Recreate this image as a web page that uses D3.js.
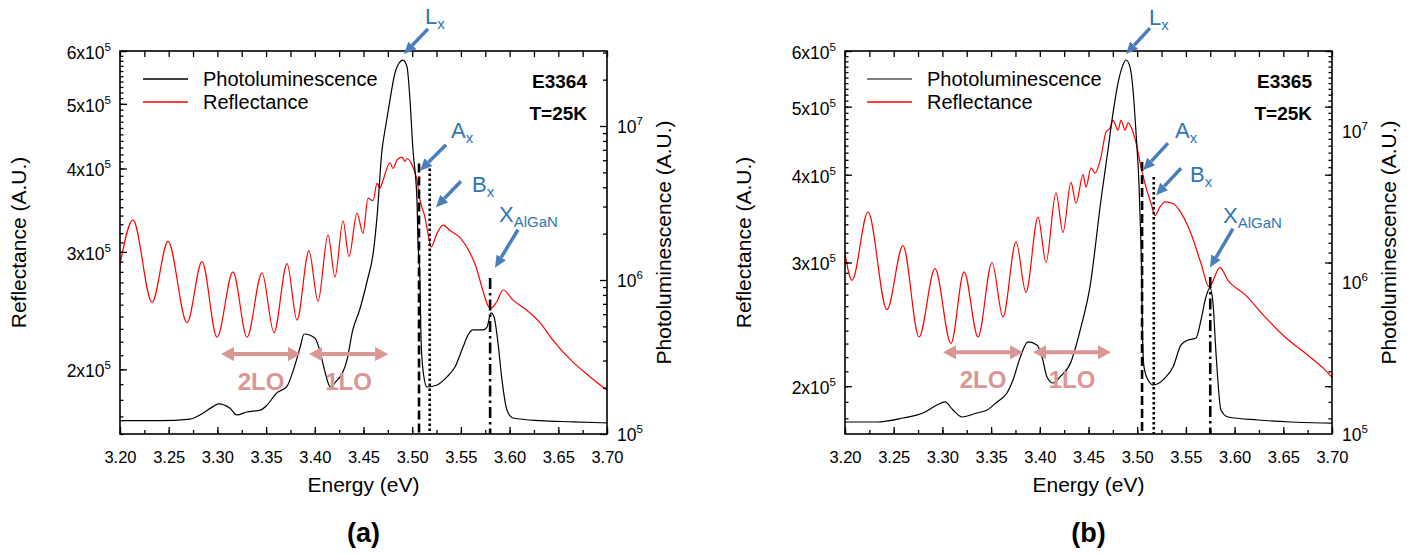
<!DOCTYPE html>
<html>
<head>
<meta charset="utf-8">
<script src="https://cdn.jsdelivr.net/npm/d3@7"></script>
<style>
body { margin:0; background:#fff; }
text { font-family: "Liberation Sans", Arial, sans-serif; }
</style>
</head>
<body>
<svg id="chart" width="1418" height="556"></svg>
<script>
// ---- data ----
var energyTicks = [3.20, 3.25, 3.30, 3.35, 3.40, 3.45, 3.50, 3.55, 3.60, 3.65, 3.70];
var reflTicks = [2e5, 3e5, 4e5, 5e5, 6e5];
var reflTickMant = ["2", "3", "4", "5", "6"];
var plTicks = [1e5, 1e6, 1e7];
var plTickExp = ["5", "6", "7"];

// panel (a) E3364 : [energy eV, reflectance]
var reflA = [
	[3.2000,2.87e5],[3.2133,3.35e5],[3.2329,2.52e5],[3.2493,3.11e5],[3.2688,2.35e5],[3.2842,2.90e5],
	[3.2996,2.235e5],[3.3160,2.80e5],[3.3304,2.235e5],[3.3458,2.79e5],[3.3581,2.27e5],[3.3715,2.88e5],
	[3.3817,2.37e5],[3.3940,3.01e5],[3.4033,2.53e5],[3.4136,3.18e5],[3.4207,2.75e5],[3.4290,3.34e5],
	[3.4351,2.95e5],[3.4433,3.43e5],[3.4495,3.20e5],[3.4546,3.61e5],[3.4598,3.58e5],[3.4639,3.80e5],
	[3.4670,3.74e5],[3.4700,3.84e5],[3.4772,4.08e5],[3.4803,4.00e5],[3.4844,4.12e5],[3.4895,4.16e5],
	[3.4925,4.10e5],[3.4947,4.14e5],[3.4998,4.05e5],[3.5049,3.84e5],[3.5080,3.59e5],[3.5131,3.38e5],
	[3.5162,3.20e5],[3.5193,3.05e5],[3.5255,3.20e5],[3.5316,3.29e5],[3.5388,3.23e5],[3.5491,3.15e5],
	[3.5593,2.99e5],[3.5655,2.85e5],[3.5727,2.62e5],[3.5779,2.49e5],[3.5809,2.47e5],[3.5871,2.53e5],
	[3.5932,2.63e5],[3.6035,2.54e5],[3.6179,2.45e5],[3.6312,2.35e5],[3.6446,2.21e5],[3.6651,2.05e5],
	[3.6825,1.95e5],[3.7000,1.86e5]
];
// panel (a) : [energy eV, photoluminescence]
var plA = [
	[3.200,1.22e5],[3.241,1.22e5],[3.272,1.25e5],[3.282,1.33e5],[3.295,1.50e5],[3.301,1.57e5],
	[3.313,1.47e5],[3.320,1.33e5],[3.330,1.39e5],[3.344,1.43e5],[3.351,1.54e5],[3.361,1.85e5],
	[3.371,2.02e5],[3.378,2.60e5],[3.385,3.67e5],[3.389,4.46e5],[3.400,4.20e5],[3.405,3.51e5],
	[3.410,2.60e5],[3.416,2.02e5],[3.423,2.24e5],[3.426,2.35e5],[3.433,3.02e5],[3.439,4.74e5],
	[3.446,6.39e5],[3.454,1.0e6],[3.460,1.50e6],[3.4639,2.57e6],[3.469,6.98e6],[3.4721,9.42e6],
	[3.4772,1.48e7],[3.4823,2.21e7],[3.4854,2.49e7],[3.4906,2.68e7],[3.4947,2.42e7],[3.4977,1.48e7],
	[3.5008,6.98e6],[3.5049,3.31e6],[3.5059,1.82e6],[3.5080,1.0e6],[3.5090,4.26e5],[3.5111,2.60e5],
	[3.5152,2.02e5],[3.5255,2.08e5],[3.5357,2.35e5],[3.5439,2.72e5],[3.5522,3.67e5],[3.5573,4.39e5],
	[3.5624,4.74e5],[3.5727,4.74e5],[3.5768,4.95e5],[3.5809,6.11e5],[3.5840,5.75e5],[3.5881,3.90e5],
	[3.5922,2.24e5],[3.5973,1.43e5],[3.6035,1.27e5],[3.6312,1.22e5],[3.6651,1.20e5],[3.7000,1.18e5]
];
// panel (b) E3365
var reflB = [
	[3.2000,3.09e5],[3.2072,2.83e5],[3.2236,3.54e5],[3.2431,2.57e5],[3.2595,3.17e5],[3.2760,2.35e5],
	[3.2924,2.94e5],[3.3088,2.30e5],[3.3222,2.91e5],[3.3366,2.35e5],[3.3509,3.00e5],[3.3622,2.51e5],
	[3.3756,3.21e5],[3.3858,2.72e5],[3.3982,3.48e5],[3.4064,3.00e5],[3.4166,3.77e5],[3.4238,3.31e5],
	[3.4320,3.90e5],[3.4372,3.64e5],[3.4444,4.00e5],[3.4474,3.84e5],[3.4526,4.09e5],[3.4567,4.02e5],
	[3.4628,4.24e5],[3.4680,4.60e5],[3.4721,4.66e5],[3.4752,4.78e5],[3.4803,4.63e5],[3.4834,4.78e5],
	[3.4875,4.63e5],[3.4906,4.74e5],[3.4957,4.60e5],[3.4988,4.44e5],[3.5039,4.10e5],[3.5090,3.84e5],
	[3.5142,3.64e5],[3.5183,3.50e5],[3.5234,3.60e5],[3.5285,3.66e5],[3.5368,3.64e5],[3.5450,3.53e5],
	[3.5552,3.30e5],[3.5655,2.99e5],[3.5737,2.77e5],[3.5850,2.95e5],[3.5932,2.83e5],[3.6107,2.70e5],
	[3.6312,2.51e5],[3.6517,2.35e5],[3.6723,2.23e5],[3.6928,2.11e5],[3.7000,2.06e5]
];
var plB = [
	[3.2000,1.20e5],[3.2329,1.20e5],[3.2595,1.275e5],[3.2801,1.376e5],[3.2945,1.554e5],[3.3027,1.627e5],
	[3.3109,1.44e5],[3.3201,1.295e5],[3.3355,1.376e5],[3.3458,1.44e5],[3.3561,1.627e5],[3.3663,1.865e5],
	[3.3725,2.27e5],[3.3797,3.18e5],[3.3879,4.05e5],[3.3971,3.87e5],[3.4023,3.22e5],[3.4074,2.38e5],
	[3.4136,2.17e5],[3.4207,2.38e5],[3.4320,2.99e5],[3.4423,5.09e5],[3.4515,9.34e5],[3.4628,3.50e6],
	[3.4700,7.49e6],[3.4752,1.315e7],[3.4803,2.07e7],[3.4854,2.73e7],[3.4885,2.94e7],[3.4926,2.65e7],
	[3.4957,1.87e7],[3.4988,9.70e6],[3.5018,4.54e6],[3.5035,2.12e6],[3.5045,1.21e6],[3.5055,4.37e5],
	[3.5070,2.77e5],[3.5111,2.27e5],[3.5162,2.11e5],[3.5285,2.34e5],[3.5368,2.77e5],[3.5450,3.87e5],
	[3.5522,4.17e5],[3.5604,4.30e5],[3.5655,5.66e5],[3.5706,8.02e5],[3.5747,9.20e5],[3.5778,7.32e5],
	[3.5809,3.42e5],[3.5860,1.44e5],[3.5932,1.295e5],[3.6240,1.237e5],[3.6579,1.20e5],[3.6990,1.18e5],
	[3.7000,1.18e5]
];

// exciton markers: energy and top of the line (reflectance units)
var markerEA = [3.507, 3.518, 3.580];
var markerTopA = [4.07e5, 4.00e5, 2.74e5];
var markerEB = [3.505, 3.517, 3.575];
var markerTopB = [4.17e5, 3.97e5, 2.86e5];

// labelled arrows: name, subscript, tip [energy, reflectance]
var annNames = ["L", "A", "B", "X"];
var annSubs = ["x", "x", "x", "AlGaN"];
var annTipA = [[3.4916,5.94e5],[3.508,3.97e5],[3.5244,3.50e5],[3.585,2.84e5]];
var annTipB = [[3.4885,5.94e5],[3.506,4.06e5],[3.5193,3.74e5],[3.5747,2.95e5]];

// phonon replica arrows [from, to] energy, drawn at a reflectance level
var loNames = ["2LO", "1LO"];
var loA = [[3.3037,3.3858],[3.394,3.4752]];
var loB = [[3.3006,3.3828],[3.393,3.4731]];

var legendNames = ["Photoluminescence", "Reflectance"];

// ---- layout ----
var W = 487, H = 383;
var annColor = "#4a7ebb", annText = "#2e75b6", loColor = "#d99694";

var panels = [
	{ id:"a", left:120, top:51, refl:reflA, pl:plA, reflDomain:[1.6e5,6e5], plDomain:[1e5,3.07e7],
	  sample:"E3364", markE:markerEA, markTop:markerTopA, tips:annTipA,
	  tails:[[24,-25],[26,-26],[25,-26],[23,-38]], texts:[[-3,-5],[5,-7],[11,11],[-19,-8]],
	  lo:loA, loLevel:2.108e5, mirror:false, legX:23, legCol:"#000" },
	{ id:"b", left:845, top:51, refl:reflB, pl:plB, reflDomain:[1.71e5,6e5], plDomain:[1e5,3.37e7],
	  sample:"E3365", markE:markerEB, markTop:markerTopB, tips:annTipB,
	  tails:[[24,-26],[25,-27],[25,-27],[23,-39]], texts:[[-1,-3],[7,-5],[9,14],[-10,-6]],
	  lo:loB, loLevel:2.235e5, mirror:true, legX:22, legCol:"#555" }
];

var svg = d3.select("#chart");
svg.append("rect").attr("width",1418).attr("height",556).attr("fill","#fff");
var defs = svg.append("defs");

defs.append("marker").attr("id","headBlue").attr("viewBox","0 -5.5 12 11")
	.attr("refX",0).attr("refY",0).attr("markerUnits","userSpaceOnUse")
	.attr("markerWidth",12).attr("markerHeight",11).attr("orient","auto")
	.append("path").attr("d","M0,-5.5L12,0L0,5.5Z").attr("fill",annColor);
defs.append("marker").attr("id","headPink").attr("viewBox","0 -7 13 14")
	.attr("refX",0).attr("refY",0).attr("markerUnits","userSpaceOnUse")
	.attr("markerWidth",13).attr("markerHeight",14).attr("orient","auto-start-reverse")
	.append("path").attr("d","M0,-7L13,0L0,7Z").attr("fill",loColor);

function shortPoint(x1, y1, x2, y2, d)
{
	var L = Math.hypot(x2-x1, y2-y1);
	return [x2 - (x2-x1)*d/L, y2 - (y2-y1)*d/L];
}

panels.forEach(function(p)
{
	var g = svg.append("g").attr("transform","translate("+p.left+","+p.top+")");
	var x = d3.scaleLinear().domain([3.2, 3.7]).range([0, W]);
	var yR = d3.scaleLog().domain(p.reflDomain).range([H, 0]);
	var yP = d3.scaleLog().domain(p.plDomain).range([H, 0]);

	defs.append("clipPath").attr("id","clip"+p.id).append("rect").attr("width",W).attr("height",H);
	var plot = g.append("g").attr("clip-path","url(#clip"+p.id+")");

	var lineR = d3.line().x(function(d){ return x(d[0]); }).y(function(d){ return yR(d[1]); }).curve(d3.curveMonotoneX);
	var lineP = d3.line().x(function(d){ return x(d[0]); }).y(function(d){ return yP(d[1]); }).curve(d3.curveMonotoneX);

	plot.append("path").attr("d", lineR(p.refl)).attr("fill","none").attr("stroke","#ff0000").attr("stroke-width",1.2);
	plot.append("path").attr("d", lineP(p.pl)).attr("fill","none").attr("stroke","#000").attr("stroke-width",1.2);

	// exciton position lines
	var dashes = ["9,4", "2.5,2.5", "11,4,2.5,4"];
	p.markE.forEach(function(e, i)
	{
		g.append("line").attr("x1", x(e)).attr("x2", x(e)).attr("y1", yR(p.markTop[i])).attr("y2", H)
			.attr("stroke","#000").attr("stroke-width",2.6).attr("stroke-dasharray", dashes[i]);
	});

	// axes: ticks point inward
	var minorE = d3.range(0, 21).map(function(i){ return 3.2 + i*0.025; });
	g.append("g").attr("transform","translate(0,"+H+")")
		.call(d3.axisBottom(x).tickValues(minorE).tickSize(-4).tickFormat(""));
	var bottom = g.append("g").attr("transform","translate(0,"+H+")")
		.call(d3.axisBottom(x).tickValues(energyTicks).tickSize(-7).tickPadding(17).tickFormat(d3.format(".2f")));
	bottom.selectAll("text").attr("font-size",16.5).attr("fill","#000").attr("font-family","Liberation Sans, Arial");
	g.append("g").call(d3.axisTop(x).tickValues(minorE).tickSize(-6).tickFormat(""));

	var minorR = d3.range(16, 61).map(function(i){ return i*1e4; })
		.filter(function(v){ return v >= p.reflDomain[0] && v <= p.reflDomain[1]; });
	g.append("g").call(d3.axisLeft(yR).tickValues(minorR).tickSize(-3.5).tickFormat(""));
	g.append("g").call(d3.axisLeft(yR).tickValues(reflTicks).tickSize(-7).tickFormat(""));

	if(p.mirror)
	{
		g.append("g").attr("transform","translate("+W+",0)").call(d3.axisRight(yR).tickValues(minorR).tickSize(-3.5).tickFormat(""));
		g.append("g").attr("transform","translate("+W+",0)").call(d3.axisRight(yR).tickValues(reflTicks).tickSize(-7).tickFormat(""));
	}
	else
	{
		var minorP = [];
		[1e5, 1e6, 1e7].forEach(function(dec){ for(var k=2;k<10;k++) minorP.push(k*dec); });
		minorP = minorP.filter(function(v){ return v <= p.plDomain[1]; });
		g.append("g").attr("transform","translate("+W+",0)").call(d3.axisRight(yP).tickValues(minorP).tickSize(-4).tickFormat(""));
		g.append("g").attr("transform","translate("+W+",0)").call(d3.axisRight(yP).tickValues(plTicks).tickSize(-7).tickFormat(""));
	}
	g.selectAll(".domain").remove();
	g.selectAll(".tick line").attr("stroke","#000").attr("stroke-width",1.3);

	g.append("rect").attr("width",W).attr("height",H).attr("fill","none").attr("stroke","#000").attr("stroke-width",1.6);

	// left tick labels  n x 10^5
	reflTicks.forEach(function(v, i)
	{
		var t = g.append("text").attr("x",-9).attr("y", yR(v)+8).attr("text-anchor","end").attr("font-size",17.5);
		t.append("tspan").text(reflTickMant[i]+"x10");
		t.append("tspan").attr("dy",-8).attr("font-size",11.5).text("5");
	});
	// right tick labels 10^n
	plTicks.forEach(function(v, i)
	{
		var t = g.append("text").attr("x",W+10).attr("y", yP(v)+7).attr("font-size",17.5);
		t.append("tspan").text("10");
		t.append("tspan").attr("dy",-8).attr("font-size",11.5).text(plTickExp[i]);
	});

	// axis titles
	g.append("text").attr("transform","translate(-101,"+(H/2)+") rotate(-90)").attr("dy","0.35em")
		.attr("text-anchor","middle").attr("font-size",21).text("Reflectance (A.U.)");
	g.append("text").attr("transform","translate("+(W+57)+","+(H/2)+") rotate(-90)").attr("dy","0.35em")
		.attr("text-anchor","middle").attr("font-size",21).text("Photoluminescence (A.U.)");
	g.append("text").attr("x",W/2).attr("y",H+58).attr("text-anchor","middle").attr("font-size",21).text("Energy (eV)");
	g.append("text").attr("x",W/2).attr("y",H+108).attr("text-anchor","middle").attr("font-size",27)
		.attr("font-weight","bold").attr("font-family","Lato, sans-serif").text("("+p.id+")");

	// legend
	[p.legCol, "#ff0000"].forEach(function(c, i)
	{
		var ly = 28 + i*23;
		g.append("line").attr("x1",p.legX).attr("x2",p.legX+45).attr("y1",ly).attr("y2",ly).attr("stroke",c).attr("stroke-width",1.3);
		g.append("text").attr("x",p.legX+60).attr("y",ly+7).attr("font-size",20).text(legendNames[i]);
	});
	g.append("text").attr("x",467).attr("y",37).attr("text-anchor","end").attr("font-size",19).attr("font-weight","bold").text(p.sample);
	g.append("text").attr("x",467).attr("y",69).attr("text-anchor","end").attr("font-size",19).attr("font-weight","bold").text("T=25K");

	// blue annotation arrows
	p.tips.forEach(function(tp, i)
	{
		var tx = x(tp[0]), ty = yR(tp[1]);
		var sx = tx + p.tails[i][0], sy = ty + p.tails[i][1];
		var e = shortPoint(sx, sy, tx, ty, 12);
		g.append("line").attr("x1",sx).attr("y1",sy).attr("x2",e[0]).attr("y2",e[1])
			.attr("stroke",annColor).attr("stroke-width",3.5).attr("marker-end","url(#headBlue)");
		var t = g.append("text").attr("x", sx + p.texts[i][0]).attr("y", sy + p.texts[i][1])
			.attr("font-family","Lato, sans-serif").attr("font-size",22).attr("fill",annText);
		t.append("tspan").text(annNames[i]);
		t.append("tspan").attr("dy",5).attr("font-size",15).text(annSubs[i]);
	});

	// phonon replica double arrows
	p.lo.forEach(function(r, i)
	{
		var x1 = x(r[0]), x2 = x(r[1]), ly = yR(p.loLevel);
		g.append("line").attr("x1",x1+13).attr("x2",x2-13).attr("y1",ly).attr("y2",ly)
			.attr("stroke",loColor).attr("stroke-width",4)
			.attr("marker-start","url(#headPink)").attr("marker-end","url(#headPink)");
		g.append("text").attr("x",(x1+x2)/2).attr("y",ly+36).attr("text-anchor","middle")
			.attr("font-family","Lato, sans-serif").attr("font-weight","bold").attr("font-size",24)
			.attr("fill",loColor).text(loNames[i]);
	});
});
</script>
</body>
</html>
